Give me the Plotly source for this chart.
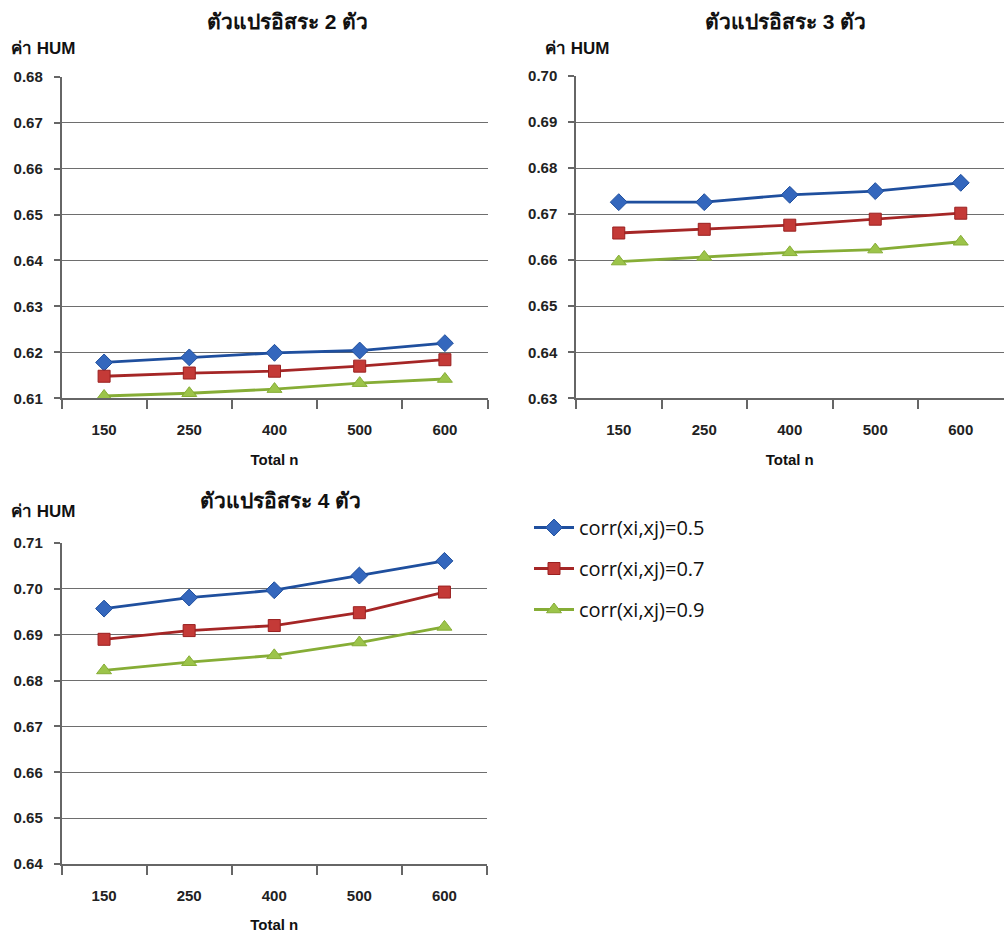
import plotly.graph_objects as go

categories = ["150", "250", "400", "500", "600"]
series_names = ["corr(xi,xj)=0.5", "corr(xi,xj)=0.7", "corr(xi,xj)=0.9"]

# ตัวแปรอิสระ 2 ตัว
v2_05 = [0.6178, 0.6189, 0.6199, 0.6204, 0.6220]
v2_07 = [0.6148, 0.6155, 0.6159, 0.6170, 0.6184]
v2_09 = [0.6105, 0.6111, 0.6120, 0.6133, 0.6142]
# ตัวแปรอิสระ 3 ตัว
v3_05 = [0.6726, 0.6726, 0.6742, 0.6750, 0.6768]
v3_07 = [0.6659, 0.6667, 0.6676, 0.6689, 0.6702]
v3_09 = [0.6597, 0.6607, 0.6617, 0.6623, 0.6640]
# ตัวแปรอิสระ 4 ตัว
v4_05 = [0.6957, 0.6981, 0.6997, 0.7029, 0.7061]
v4_07 = [0.6890, 0.6909, 0.6920, 0.6948, 0.6993]
v4_09 = [0.6822, 0.6840, 0.6855, 0.6883, 0.6917]

titles = ["ตัวแปรอิสระ 2 ตัว", "ตัวแปรอิสระ 3 ตัว", "ตัวแปรอิสระ 4 ตัว"]
y_title = "ค่า HUM"
x_title = "Total n"
y_ranges = [[0.61, 0.68], [0.63, 0.70], [0.64, 0.71]]

W, H = 1004, 933
def px(x):
    return x / W
def py(y):
    return 1 - y / H

styles = [
    dict(line="#1F4F9E", marker="#3467BD", edge="#1F4F9E", symbol="diamond", size=13),
    dict(line="#A52626", marker="#C43A37", edge="#9A2020", symbol="square", size=12),
    dict(line="#86AD36", marker="#9CC44A", edge="#86AD36", symbol="triangle-up", size=13),
]

data_sets = [[v2_05, v2_07, v2_09], [v3_05, v3_07, v3_09], [v4_05, v4_07, v4_09]]

# pixel geometry of the three panels (left, right, top, bottom)
panels = [(61.5, 487.5, 76.7, 398.3), (576, 1003.5, 76.0, 398.3), (61.5, 487.0, 543, 864)]

FONT = "Arial, Liberation Sans, sans-serif"

fig = go.Figure()

for p, (vals, (l, r, t, b)) in enumerate(zip(data_sets, panels)):
    xa = "x" if p == 0 else f"x{p+1}"
    ya = "y" if p == 0 else f"y{p+1}"
    for s, (v, st) in enumerate(zip(vals, styles)):
        fig.add_trace(go.Scatter(
            x=categories, y=v, name=series_names[s], mode="lines+markers",
            line=dict(color=st["line"], width=2.8),
            marker=dict(symbol=st["symbol"], size=st["size"], color=st["marker"],
                        line=dict(color=st["edge"], width=1)),
            xaxis=xa, yaxis=ya, legendgroup=series_names[s], showlegend=(p == 0),
        ))
    xkey = "xaxis" if p == 0 else f"xaxis{p+1}"
    ykey = "yaxis" if p == 0 else f"yaxis{p+1}"
    fig.layout[xkey] = dict(
        domain=[px(l), px(r)], anchor=ya, type="category", range=[-0.5, 4.5],
        showline=True, linecolor="#666666", linewidth=1.5, ticks="outside", tickson="boundaries",
        ticklen=9, tickwidth=1.5, tickcolor="#666666", showgrid=False, zeroline=False,
        tickfont=dict(family=FONT, size=15, color="#222222", weight="bold"),
        ticklabelstandoff=17, automargin=False,
        title=dict(text="<b>" + x_title + "</b>", font=dict(family=FONT, size=15, color="#111111"), standoff=17),
        fixedrange=True,
    )
    fig.layout[ykey] = dict(
        domain=[py(b), py(t)], anchor=xa, range=y_ranges[p], dtick=0.01, tick0=y_ranges[p][0],
        tickformat=".2f", showline=True, linecolor="#666666", linewidth=1.5,
        ticks="outside", ticklen=6, tickwidth=1.5, tickcolor="#666666",
        showgrid=True, gridcolor="#6E6E6E", gridwidth=1.3, zeroline=False,
        tickfont=dict(family=FONT, size=15, color="#222222", weight="bold"),
        ticklabelstandoff=8, automargin=False,
        fixedrange=True,
    )

annotations = []
for txt, (xx, yy) in zip(titles, [(287, 22), (785, 22), (280, 500)]):
    annotations.append(dict(text="<b>" + txt + "</b>", x=px(xx), y=py(yy), xref="paper", yref="paper",
                            showarrow=False, xanchor="center", yanchor="middle",
                            font=dict(family=FONT, size=21, color="#111111")))
for (xx, yy) in [(9, 48), (543, 48), (9, 511)]:
    annotations.append(dict(text="<b>" + y_title + "</b>", x=px(xx), y=py(yy), xref="paper", yref="paper",
                            showarrow=False, xanchor="left", yanchor="middle",
                            font=dict(family=FONT, size=17, color="#111111")))

fig.update_layout(
    width=W, height=H, margin=dict(l=0, r=0, t=0, b=0, pad=0, autoexpand=False),
    paper_bgcolor="white", plot_bgcolor="white",
    annotations=annotations,
    legend=dict(x=px(529), y=py(508), xanchor="left", yanchor="top",
                font=dict(family="Open Sans, Lato, sans-serif", size=20, color="#111111"),
                tracegroupgap=12, traceorder="grouped", itemwidth=40, bgcolor="rgba(0,0,0,0)"),
)

fig.write_html("out.html",
               config=dict(displayModeBar=False, responsive=False),
               post_script="document.documentElement.style.margin='0';document.body.style.margin='0';"
                           "document.documentElement.style.overflow='hidden';document.body.style.overflow='hidden';")
